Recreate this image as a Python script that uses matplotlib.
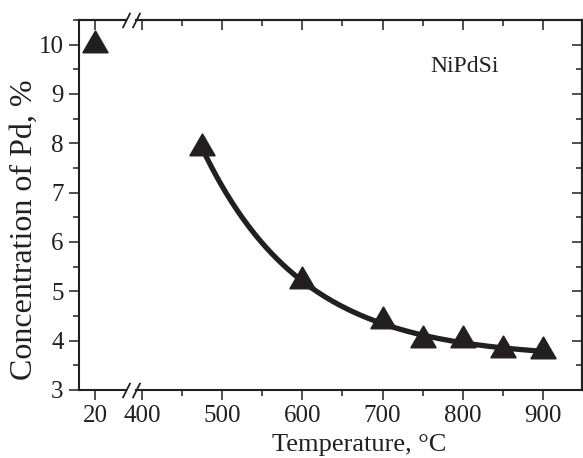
import numpy as np
import matplotlib.pyplot as plt
from matplotlib.ticker import MultipleLocator

plt.rcParams["font.family"] = ["Liberation Serif", "DejaVu Serif"]

INK = "#231f20"

# room temperature point (left segment of the broken axis)
t_room = [20]
c_room = [10.0]

# annealed samples (right segment)
temp = np.array([475, 600, 700, 750, 800, 850, 900])
conc = np.array([7.9, 5.2, 4.4, 4.02, 4.02, 3.82, 3.8])

x_ticks_room = [20]
x_ticks_main = [400, 500, 600, 700, 800, 900]
y_ticks = [3, 4, 5, 6, 7, 8, 9, 10]


def exp_fit(x, y):
    # y = y0 + A*exp(-(x - x[0])/tau), tau by grid search, y0/A by least squares
    best = None
    for tau in np.linspace(20, 600, 2000):
        M = np.column_stack([np.ones_like(x, dtype=float), np.exp(-(x - x[0]) / tau)])
        coef, *_ = np.linalg.lstsq(M, y, rcond=None)
        err = np.sum((M @ coef - y) ** 2)
        if best is None or err < best[0]:
            best = (err, tau, coef)
    _, tau, (y0, a) = best
    xs = np.linspace(x[0], x[-1], 300)
    return xs, y0 + a * np.exp(-(xs - x[0]) / tau)


W, H = 583, 458
fig = plt.figure(figsize=(W / 100, H / 100), dpi=100)
bottom, top = 1 - 390 / H, 1 - 20 / H
ax1 = fig.add_axes([79 / W, bottom, (126 - 79) / W, top - bottom])
ax2 = fig.add_axes([136 / W, bottom, (582 - 136) / W, top - bottom])

ax1.set_xlim(0, 58.75)
ax2.set_xlim(392.5, 948.75)
for ax in (ax1, ax2):
    ax.set_ylim(3, 10.5)
    ax.set_facecolor("none")
    for s in ax.spines.values():
        s.set_linewidth(1.5)
        s.set_color(INK)
ax1.spines["right"].set_visible(False)
ax2.spines["left"].set_visible(False)

tick_kw = dict(colors=INK, width=1.1, labelsize=18, labelcolor=INK)

# bottom / left: outward ticks with labels
ax1.set_xticks(x_ticks_room)
ax1.set_yticks(y_ticks)
ax1.yaxis.set_minor_locator(MultipleLocator(0.5))
ax1.tick_params(which="both", direction="out", top=False, right=False, pad=4, **tick_kw)
ax1.tick_params(which="major", length=7)
ax1.tick_params(which="minor", length=4)

ax2.set_xticks(x_ticks_main)
ax2.xaxis.set_minor_locator(MultipleLocator(50))
ax2.set_yticks(y_ticks)
ax2.yaxis.set_minor_locator(MultipleLocator(0.5))
ax2.tick_params(which="both", direction="out", top=False, left=False, right=False,
                labelleft=False, pad=4, **tick_kw)
ax2.tick_params(which="major", length=7)
ax2.tick_params(which="minor", length=4)

# top / right: inward ticks, no labels
for ax, ticks, minor in ((ax1, x_ticks_room, None), (ax2, x_ticks_main, 50)):
    sec = ax.secondary_xaxis("top")
    sec.set_xticks(ticks)
    if minor:
        sec.xaxis.set_minor_locator(MultipleLocator(minor))
    sec.tick_params(which="both", direction="in", labeltop=False, colors=INK, width=1.1)
    sec.tick_params(which="major", length=7)
    sec.tick_params(which="minor", length=4)
    sec.spines["top"].set_linewidth(1.5)
    sec.spines["top"].set_color(INK)

secy = ax2.secondary_yaxis("right")
secy.set_yticks(y_ticks)
secy.yaxis.set_minor_locator(MultipleLocator(0.5))
secy.tick_params(which="both", direction="in", labelright=False, colors=INK, width=1.1)
secy.tick_params(which="major", length=7)
secy.tick_params(which="minor", length=4)
secy.spines["right"].set_linewidth(1.5)
secy.spines["right"].set_color(INK)

# data
mk = dict(marker=(3, 0, 0), markersize=21, color=INK, linestyle="none",
          clip_on=False, zorder=5)
ax1.plot(t_room, c_room, **mk)
ax2.plot(temp, conc, **mk)
xs, ys = exp_fit(temp, conc)
ax2.plot(xs, ys, color=INK, lw=3.8, zorder=4, solid_capstyle="butt")

# axis break marks
brk = dict(marker=[(-0.5, -1), (0.5, 1)], markersize=11, linestyle="none",
           color=INK, mec=INK, mew=1.3, clip_on=False)
ax1.plot([1, 1], [0, 1], transform=ax1.transAxes, **brk)
ax2.plot([0, 0], [0, 1], transform=ax2.transAxes, **brk)

ax2.text(0.659, 0.859, "NiPdSi", transform=ax2.transAxes, fontsize=17,
         ha="left", va="baseline", color=INK)

ax2.set_xlabel("Temperature, °C", fontsize=19, color=INK, labelpad=5)
fig.text(24 / W, 1 - 230 / H, "Concentration of Pd, %", rotation=90,
         fontsize=23, ha="center", va="center", color=INK)

fig.savefig("out.png", dpi=100)
